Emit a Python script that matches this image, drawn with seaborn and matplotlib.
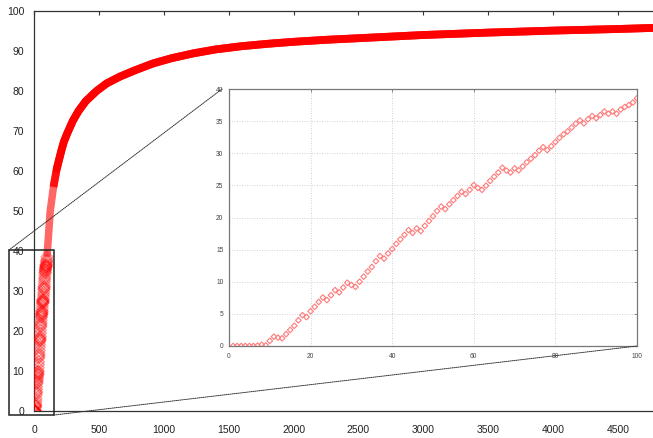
import numpy as np
import pandas as pd
import matplotlib.pyplot as plt
import seaborn as sns
from matplotlib.patches import Rectangle, ConnectionPatch

# first 100 samples, shown in the inset and at the foot of the main curve
zoom_x = list(range(1, 101))
zoom_y = [0, 0, 0, 0, 0, 0, 0.05, 0.2, 0.1, 0.8,
          1.45, 1.3, 1.2, 1.85, 2.5, 3.15, 4.0, 4.8, 4.5, 5.4,
          6.1, 6.85, 7.55, 7.15, 7.9, 8.7, 8.35, 9.1, 9.85, 9.5,
          9.2, 10.0, 10.8, 11.6, 12.3, 13.2, 14.0, 13.6, 14.4, 15.1,
          15.9, 16.6, 17.3, 18.05, 17.6, 18.3, 17.9, 18.7, 19.45, 20.2,
          21.0, 21.7, 21.3, 22.05, 22.7, 23.35, 24.0, 23.65, 24.3, 25.05,
          24.6, 24.3, 24.95, 25.7, 26.35, 27.0, 27.75, 27.3, 27.0, 27.65,
          27.35, 27.95, 28.6, 29.15, 29.7, 30.4, 30.95, 30.5, 31.1, 31.75,
          32.4, 32.95, 33.4, 34.0, 34.6, 35.1, 34.65, 35.3, 35.8, 35.45,
          35.95, 36.5, 36.15, 36.5, 36.15, 36.8, 37.2, 37.5, 37.9, 38.55]

# rest of the curve
# (the sparse stretch just above the inset range looks lighter)
sparse_x = [100, 125, 150, 175]
sparse_y = [38.55, 50, 56, 60.5]
curve_x = [150, 175, 210, 230, 256, 300, 345, 400, 482, 560, 662, 780, 918,
           1060, 1226, 1400, 1600, 1800, 2000, 2250, 2500, 2750, 3000, 3500,
           4000, 4500, 4800]
curve_y = [56, 60.5, 65, 67.3, 69.4, 72.6, 75.1, 77.5, 80, 81.9, 83.6, 85.2,
           86.9, 88.2, 89.4, 90.4, 91.2, 91.8, 92.3, 92.8, 93.2, 93.6, 94.0,
           94.6, 95.1, 95.5, 95.8]

main_xticks = list(range(0, 5000, 500))
main_yticks = list(range(0, 101, 10))
inset_xticks = [0, 20, 40, 60, 80, 100]
inset_yticks = [0, 5, 10, 15, 20, 25, 30, 35, 40]

zoom_df = pd.DataFrame({"x": zoom_x, "y": zoom_y})
sparse_df = pd.DataFrame({"x": sparse_x, "y": sparse_y})
curve_df = pd.DataFrame({"x": curve_x, "y": curve_y})

sns.set_style("white")
plt.rcParams['font.family'] = ['Liberation Sans', 'DejaVu Sans']

fig = plt.figure(figsize=(6.53, 4.38), dpi=100)
ax = fig.add_axes([34 / 653, 27 / 438, 619 / 653, 400 / 438])

sns.lineplot(data=sparse_df, x="x", y="y", ax=ax, color="#ff0000", lw=5.4,
             alpha=0.6, solid_joinstyle="round", solid_capstyle="butt",
             zorder=3)
sns.lineplot(data=curve_df, x="x", y="y", ax=ax, color="#ff0000", lw=5.6,
             alpha=0.85, solid_joinstyle="round", solid_capstyle="butt",
             zorder=3)
sns.lineplot(data=curve_df[curve_df["x"] >= 175], x="x", y="y", ax=ax,
             color="#ff0000", lw=5.6, solid_joinstyle="round",
             solid_capstyle="round", zorder=3)
sns.scatterplot(data=zoom_df, x="x", y="y", ax=ax, marker="D", s=36,
                facecolor="none", edgecolor="#ff0000", linewidth=1.0,
                alpha=0.4, zorder=3)

ax.set_xlim(0, 4769)
ax.set_ylim(0, 100)
ax.set_xticks(main_xticks)
ax.set_yticks(main_yticks)
ax.set_xlabel("")
ax.set_ylabel("")
ax.tick_params(direction="in", length=3, width=0.8, color="#333333",
               labelsize=7.5, labelcolor="#222222", top=True)
ax.tick_params(axis="x", pad=10)
ax.tick_params(axis="y", pad=7)
for side in ["left", "top", "bottom"]:
    ax.spines[side].set_color("#333333")
    ax.spines[side].set_linewidth(0.9)
ax.spines["right"].set_visible(False)

# zoom box around the start of the curve
rect = Rectangle((-193, -1), 349, 41.25, fill=False, edgecolor="#222222",
                 lw=1.1, clip_on=False, zorder=4)
ax.add_patch(rect)

# inset
ins = fig.add_axes([229 / 653, 92 / 438, 408 / 653, 257 / 438])
sns.scatterplot(data=zoom_df, x="x", y="y", ax=ins, marker="D", s=8,
                facecolor="none", edgecolor="#ff7a7a", linewidth=0.8, zorder=3)
ins.set_xlim(0, 100)
ins.set_ylim(0, 40)
ins.set_xticks(inset_xticks)
ins.set_yticks(inset_yticks)
ins.set_xlabel("")
ins.set_ylabel("")
ins.grid(True, color="#cccccc", lw=0.6, linestyle=(0, (1.2, 1.8)))
ins.tick_params(direction="in", length=2, width=0.6, color="#777777",
                labelsize=4.8, labelcolor="#444444", top=True, right=True)
ins.tick_params(axis="x", pad=5)
ins.tick_params(axis="y", pad=4)
for side in ins.spines:
    ins.spines[side].set_color("#777777")
    ins.spines[side].set_linewidth(0.9)

# dotted leader lines from the box to the inset
for a_xy, b_xy in [((-193, 40.25), (-0.017, 1.0)), ((156, -1), (1.0, 0.0))]:
    con = ConnectionPatch(xyA=a_xy, coordsA=ax.transData,
                          xyB=b_xy, coordsB=ins.transAxes,
                          color="#333333", lw=0.7, linestyle=(0, (1, 1)),
                          zorder=5)
    fig.add_artist(con)

fig.savefig("out.png", dpi=100)
